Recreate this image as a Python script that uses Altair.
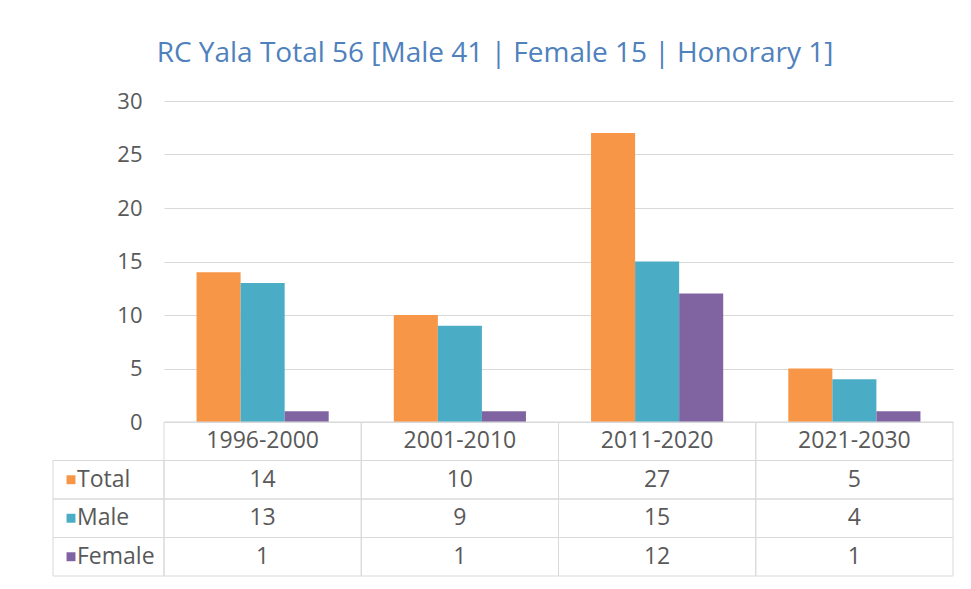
import altair as alt
import pandas as pd

# ---- data ----
categories = ["1996-2000", "2001-2010", "2011-2020", "2021-2030"]
series = ["Total", "Male", "Female"]
total = [14, 10, 27, 5]
male = [13, 9, 15, 4]
female = [1, 1, 12, 1]
y_ticks = [0, 5, 10, 15, 20, 25, 30]
colors = ["#F79646", "#4BACC6", "#8064A2"]
title_text = "RC Yala Total 56 [Male 41 | Female 15 | Honorary 1]"

rows = []
for s, vals in zip(series, [total, male, female]):
    for c, v in zip(categories, vals):
        rows.append({"cat": c, "row": s, "series": s, "value": v, "label": str(v)})
df = pd.DataFrame(rows)

hdr = pd.DataFrame({"cat": categories, "row": ["Header"] * len(categories), "label": categories})
lab_df = pd.DataFrame({"row": series, "series": series, "label": series})
cells = pd.concat([df[["cat", "row"]], hdr[["cat", "row"]]], ignore_index=True)

FONT = "Open Sans"
GRID = "#D9D9D9"
TXT = "#595959"
row_domain = ["Header"] + series

color = alt.Color("series:N", scale=alt.Scale(domain=series, range=colors), legend=None)

bars = alt.Chart(df).mark_bar().encode(
    x=alt.X("cat:N", sort=categories,
            scale=alt.Scale(domain=categories, paddingInner=0.33, paddingOuter=0.165),
            axis=None),
    xOffset=alt.XOffset("series:N", sort=series,
                        scale=alt.Scale(domain=series, paddingInner=0, paddingOuter=0)),
    y=alt.Y("value:Q", scale=alt.Scale(domain=[0, 30], nice=False),
            axis=alt.Axis(values=y_ticks, title=None, grid=True, gridColor=GRID,
                          domain=False, ticks=False, labelPadding=22, labelFontSize=22,
                          labelColor=TXT, labelFont=FONT)),
    color=color,
).properties(width=789, height=321)

ytab = alt.Y("row:N", sort=row_domain,
             scale=alt.Scale(domain=row_domain, paddingInner=0, paddingOuter=0),
             axis=None)
xtab = alt.X("cat:N", sort=categories,
             scale=alt.Scale(domain=categories, paddingInner=0, paddingOuter=0),
             axis=None)

txt_kw = dict(font=FONT, fontSize=23, color=TXT, baseline="middle")

cell_box = alt.Chart(cells).mark_rect(fill="transparent", stroke=GRID, strokeWidth=1).encode(
    x=xtab, y=ytab)
cell_text = alt.Chart(df).mark_text(align="center", **txt_kw).encode(
    x=xtab, y=ytab, text="label:N")
hdr_text = alt.Chart(hdr).mark_text(align="center", **txt_kw).encode(
    x=xtab, y=ytab, text="label:N")
label_cells = alt.Chart(lab_df).mark_rect(fill="transparent", stroke=GRID, strokeWidth=1).encode(
    x=alt.value(-111), x2=alt.value(0), y=ytab)
label_sq = alt.Chart(lab_df).mark_square(size=80, opacity=1).encode(
    x=alt.value(-93), y=ytab, color=color)
label_text = alt.Chart(lab_df).mark_text(align="left", **txt_kw).encode(
    x=alt.value(-87), y=ytab, text="label:N")

table = alt.layer(cell_box, label_cells, cell_text, hdr_text, label_sq, label_text).properties(
    width=789, height=154)

chart = alt.vconcat(bars, table, spacing=0, bounds="flush").resolve_scale(
    x="independent", y="independent"
).properties(
    title=alt.TitleParams(title_text, font=FONT, fontSize=28, fontWeight="normal",
                          color="#4F81BD", anchor="middle", offset=22, dx=-8),
    padding={"left": 44, "top": 32, "right": 8, "bottom": 2},
).configure_view(stroke=None)

chart.save("out.html", embed_options={"renderer": "svg", "actions": False})
